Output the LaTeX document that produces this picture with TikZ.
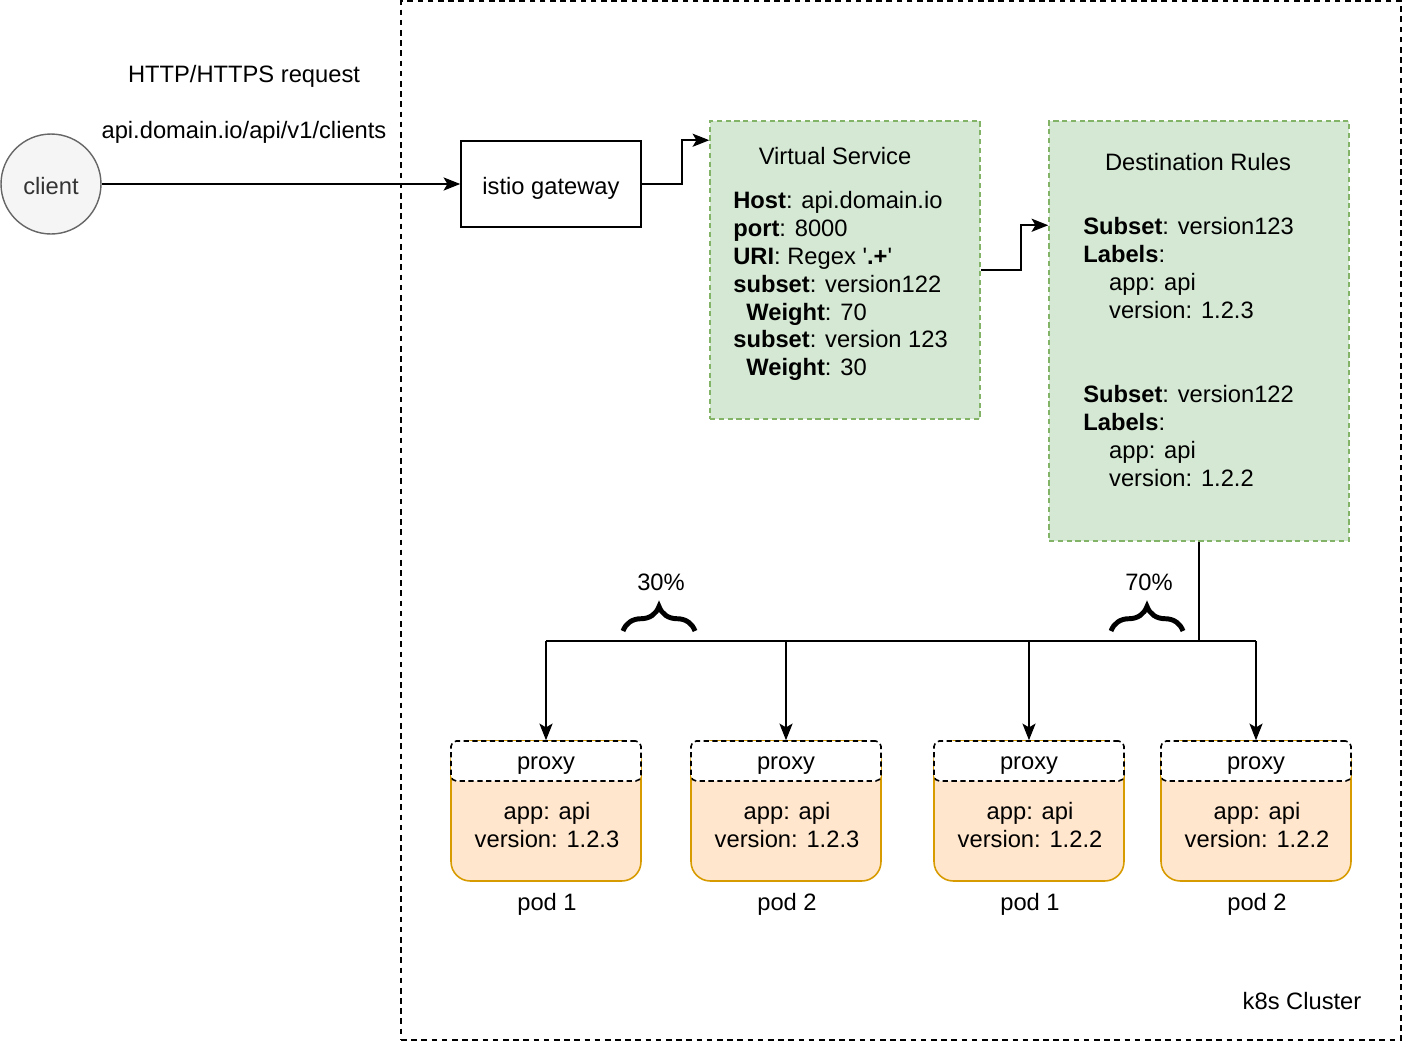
\documentclass[tikz,border=0pt]{standalone}
\usepackage{fontspec}
\setmainfont{Liberation Sans}
\newfontfamily\plainfont{Liberation Sans}
\usetikzlibrary{arrows.meta,calc,decorations.pathreplacing}
\definecolor{gfill}{HTML}{D5E8D4}
\definecolor{gline}{HTML}{82B366}
\definecolor{ofill}{HTML}{FFE6CC}
\definecolor{oline}{HTML}{D79B00}
\definecolor{cfill}{HTML}{F5F5F5}
\definecolor{cline}{HTML}{666666}
\definecolor{ctext}{HTML}{333333}
\tikzset{
  arr/.style={-{Stealth[length=9.5pt,width=7.5pt,inset=2.2pt]}, line width=0.9pt},
  conn/.style={line width=0.9pt},
  greenbox/.style={draw=gline, fill=gfill, dashed, dash pattern=on 3pt off 2pt, line width=0.9pt, inner sep=0pt},
  podbox/.style={draw=oline, fill=ofill, line width=0.9pt, rounded corners=11pt, minimum width=3.8cm, minimum height=2.8cm, inner sep=0pt},
  proxybox/.style={draw=black, fill=white, dashed, dash pattern=on 3pt off 2pt, line width=0.9pt, rounded corners=3pt, minimum width=3.8cm, minimum height=0.8cm, inner sep=0pt, text height=12.6pt, text depth=2.8pt},
  txt/.style={inner sep=0pt},
  bracestyle/.style={decorate, decoration={brace, amplitude=14pt}, line width=2.8pt},
}
\begin{document}
\begin{tikzpicture}[x=0.02cm,y=-0.02cm,font=\fontsize{13.5}{15.9}\selectfont]
\useasboundingbox (0,0) rectangle (1402,1042);
% cluster
\node[draw, dashed, dash pattern=on 3.2pt off 2.6pt, line width=0.9pt, minimum width=20cm, minimum height=20.78cm, inner sep=0pt] (k8s) at (901,520.5) {};
\node[txt] (k8slabel) at (1302,1001) {k8s Cluster};
% client
\node[circle, draw=cline, fill=cfill, text=ctext, minimum size=2cm, inner sep=0pt, line width=0.8pt, text height=11.9pt, text depth=0pt] (client) at (51,184) {client};
\node[txt] (req) at (244,76) {HTTP/HTTPS request};
\node[txt] (url) at (244,132) {api.domain.io/api/v1/clients};
% gateway
\node[draw, line width=0.9pt, minimum width=3.6cm, minimum height=1.72cm, inner sep=0pt, text height=14.3pt, text depth=2.8pt] (gw) at (551,184) {istio gateway};
% virtual service
\node[greenbox, minimum width=5.4cm, minimum height=5.96cm] (vs) at (845,270) {};
\node[txt] (vstitle) at (835,156) {Virtual Service};
\node[txt, anchor=west, align=left] (vstext) at (733,286) {\textbf{Host}: api.domain.io\\\textbf{port}: 8000\\\textbf{URI}: Regex {\plainfont'}\textbf{.+}{\plainfont'}\\\textbf{subset}: version122\\\hspace*{7.4pt}\textbf{Weight}: 70\\\textbf{subset}: version 123\\\hspace*{7.4pt}\textbf{Weight}: 30};
% destination rules
\node[greenbox, minimum width=6cm, minimum height=8.4cm] (dr) at (1199,331) {};
\node[txt] (drtitle) at (1198,162) {Destination Rules};
\node[txt, anchor=west, align=left] (drtext) at (1083,352) {\textbf{Subset}: version123\\\textbf{Labels}:\\\hspace*{14.7pt}app: api\\\hspace*{14.7pt}version: 1.2.3\\[31.8pt]\textbf{Subset}: version122\\\textbf{Labels}:\\\hspace*{14.7pt}app: api\\\hspace*{14.7pt}version: 1.2.2};
% pods
\foreach \i/\cx/\ver/\pn in {1/546/1.2.3/1, 2/786/1.2.3/2, 3/1029/1.2.2/1, 4/1256/1.2.2/2}{
  \node[podbox] (pod\i) at (\cx,811) {};
  \node[proxybox] (proxy\i) at (\cx,761) {proxy};
  \node[txt, align=center] (podtext\i) at (\cx+1,825) {app: api\\version: \ver};
  \node[txt] (podlabel\i) at (\cx+1,904) {pod \pn};
}
% connectors
\draw[arr] (client) -- (gw);
\draw[arr] (gw.east) -- ++(40,0) |- (vs.west |- gw.north);
\draw[arr] (vs.east) -- ++(40,0) |- ($(dr.north west)+(0,105)$);
\coordinate (bus) at (1199,641);
\draw[conn] (dr.south) -- (bus);
\draw[conn] (bus -| proxy1.north) -- (bus -| proxy4.north);
\foreach \i in {1,2,3,4}{
  \draw[arr] (bus -| proxy\i.north) -- (proxy\i.north);
}
% braces
\coordinate (b30a) at (623,631);
\coordinate (b30b) at (695,631);
\coordinate (b70a) at (1111,631);
\coordinate (b70b) at (1183,631);
\draw[bracestyle] (b30a) -- (b30b);
\draw[bracestyle] (b70a) -- (b70b);
\node[txt] (p30) at (661,582) {30\%};
\node[txt] (p70) at (1149,582) {70\%};
\end{tikzpicture}
\end{document}
